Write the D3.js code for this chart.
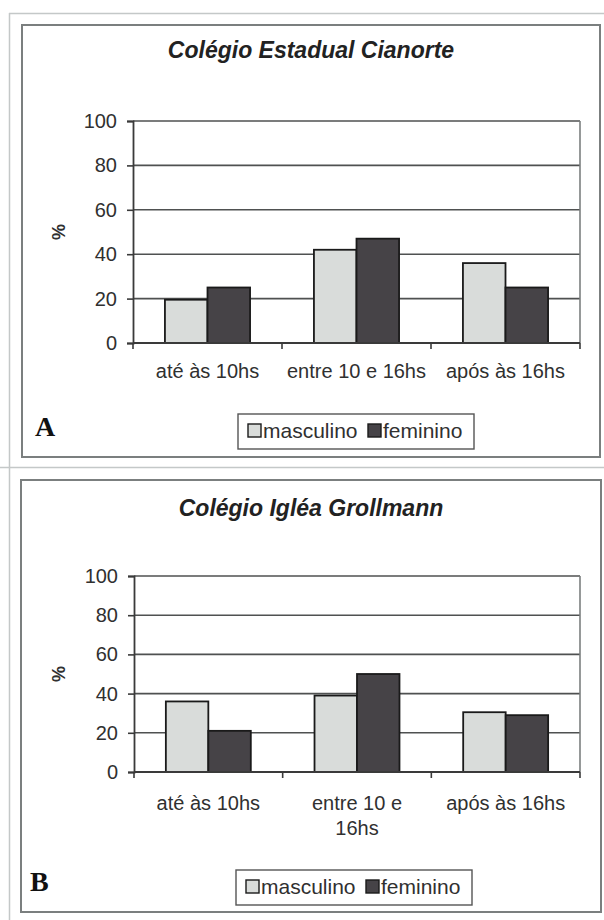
<!DOCTYPE html>
<html>
<head>
<meta charset="utf-8">
<script src="https://cdn.jsdelivr.net/npm/d3@7"></script>
<style>
  body { margin: 0; background: #fff; }
  svg { display: block; font-family: "Liberation Sans", Arial, sans-serif; }
</style>
</head>
<body>
<svg width="604" height="920"></svg>
<script>
// chart data
var categoriesA = ["até às 10hs", "entre 10 e 16hs", "após às 16hs"];
var categoriesB = ["até às 10hs", "entre 10 e\n16hs", "após às 16hs"];
var seriesNames = ["masculino", "feminino"];
var masculinoA = [19.5, 42, 36];
var femininoA = [25, 47, 25];
var masculinoB = [36, 39, 30.5];
var femininoB = [21, 50, 29];
var yTicks = [0, 20, 40, 60, 80, 100];
var titleA = "Colégio Estadual Cianorte";
var titleB = "Colégio Igléa Grollmann";

var colors = { masculino: "#d9dcda", feminino: "#464347" };
var textColor = "#303030";

var svg = d3.select("svg");

// page frame (light lines round the two panels)
svg.append("line").attr("x1", 9).attr("x2", 604).attr("y1", 13.5).attr("y2", 13.5)
   .attr("stroke", "#c4c8c8").attr("stroke-width", 1.5);
svg.append("line").attr("x1", 9.5).attr("x2", 9.5).attr("y1", 13).attr("y2", 920)
   .attr("stroke", "#c4c8c8").attr("stroke-width", 1.5);
svg.append("line").attr("x1", 0).attr("x2", 604).attr("y1", 467.5).attr("y2", 467.5)
   .attr("stroke", "#c4c8c8").attr("stroke-width", 1.5);

function DrawPanel(cfg) {
    var g = svg.append("g");

    // panel box
    g.append("rect")
     .attr("x", cfg.box[0]).attr("y", cfg.box[1])
     .attr("width", cfg.box[2] - cfg.box[0]).attr("height", cfg.box[3] - cfg.box[1])
     .attr("fill", "#fff").attr("stroke", "#7b7f7f").attr("stroke-width", 2);

    // title
    g.append("text")
     .attr("x", 311).attr("y", cfg.titleY)
     .attr("text-anchor", "middle")
     .style("font-size", "23px").style("font-weight", "bold").style("font-style", "italic")
     .style("fill", "#222")
     .text(cfg.title);

    var x0 = d3.scaleBand().domain(cfg.categories).range([cfg.left, cfg.right]).padding(0);
    var bw = x0.bandwidth();
    var gap = bw * 0.75 / 3.5;   // excel gap width 150%
    var x1 = d3.scaleBand().domain(seriesNames).range([gap, bw - gap]).padding(0);
    var y = d3.scaleLinear().domain([0, 100]).range([cfg.bottom, cfg.top]);

    // gridlines
    g.append("g").selectAll("line").data(yTicks.filter(function(d) { return d > 0; })).enter()
     .append("line")
     .attr("x1", cfg.left).attr("x2", cfg.right)
     .attr("y1", function(d) { return y(d); }).attr("y2", function(d) { return y(d); })
     .attr("stroke", "#4f5151").attr("stroke-width", 1.6);

    // right border of plot area
    g.append("line")
     .attr("x1", cfg.right).attr("x2", cfg.right).attr("y1", cfg.top).attr("y2", cfg.bottom)
     .attr("stroke", "#7b7f7f").attr("stroke-width", 1.6);

    // bars
    var rows = cfg.categories.map(function(c, i) {
        return { cat: c, values: [ { name: "masculino", v: cfg.masc[i] }, { name: "feminino", v: cfg.fem[i] } ] };
    });
    g.append("g").selectAll("g").data(rows).enter()
     .append("g")
     .attr("transform", function(d) { return "translate(" + x0(d.cat) + ",0)"; })
     .selectAll("rect").data(function(d) { return d.values; }).enter()
       .append("rect")
       .attr("x", function(d) { return x1(d.name); })
       .attr("y", function(d) { return y(d.v); })
       .attr("width", x1.bandwidth())
       .attr("height", function(d) { return y(0) - y(d.v); })
       .attr("fill", function(d) { return colors[d.name]; })
       .attr("stroke", "#1a1a1a").attr("stroke-width", 1.8);

    // y axis
    var yAxis = g.append("g")
     .attr("transform", "translate(" + cfg.left + ",0)")
     .call(d3.axisLeft(y).tickValues(yTicks).tickSize(6).tickPadding(10));
    yAxis.select(".domain").attr("stroke", "#3a3a3a").attr("stroke-width", 1.8);
    yAxis.selectAll(".tick line").attr("stroke", "#3a3a3a").attr("stroke-width", 1.6);
    yAxis.selectAll(".tick text")
     .style("font-size", "20px").style("font-family", "Liberation Sans, Arial, sans-serif")
     .style("fill", textColor);

    // x axis line and category boundary ticks
    g.append("line")
     .attr("x1", cfg.left).attr("x2", cfg.right).attr("y1", y(0)).attr("y2", y(0))
     .attr("stroke", "#3a3a3a").attr("stroke-width", 1.8);
    var edges = cfg.categories.map(function(c) { return x0(c); }).concat([cfg.right]);
    g.append("g").selectAll("line").data(edges).enter()
     .append("line")
     .attr("x1", function(d) { return d; }).attr("x2", function(d) { return d; })
     .attr("y1", y(0)).attr("y2", y(0) + 6)
     .attr("stroke", "#3a3a3a").attr("stroke-width", 1.6);

    // category labels
    g.append("g").selectAll("text").data(cfg.categories).enter()
     .append("text")
     .attr("x", function(d) { return x0(d) + bw / 2; })
     .attr("y", cfg.labelY)
     .attr("text-anchor", "middle")
     .style("font-size", "20px").style("fill", textColor)
     .each(function(d) {
         var lines = d.split("\n");
         var t = d3.select(this);
         lines.forEach(function(l, i) {
             t.append("tspan").attr("x", x0(d) + bw / 2).attr("dy", i == 0 ? 0 : 25).text(l);
         });
     });

    // y axis title
    g.append("text")
     .attr("transform", "translate(65," + ((cfg.top + cfg.bottom) / 2) + ") rotate(-90)")
     .attr("text-anchor", "middle")
     .style("font-size", "18px").style("font-weight", "bold").style("fill", textColor)
     .text("%");

    // legend
    var lg = g.append("g").attr("transform", "translate(" + cfg.legend[0] + "," + cfg.legend[1] + ")");
    lg.append("rect").attr("width", 236).attr("height", 35)
      .attr("fill", "#fff").attr("stroke", "#555").attr("stroke-width", 1.4);
    var items = [ { name: "masculino", sx: 10, tx: 25 }, { name: "feminino", sx: 130, tx: 145 } ];
    items.forEach(function(it) {
        lg.append("rect").attr("x", it.sx).attr("y", 10).attr("width", 13).attr("height", 13)
          .attr("fill", colors[it.name]).attr("stroke", "#1a1a1a").attr("stroke-width", 1.4);
        lg.append("text").attr("x", it.tx).attr("y", 23.5)
          .style("font-size", "21px").style("fill", textColor).text(it.name);
    });

    // panel letter
    g.append("text")
     .attr("x", cfg.letterX).attr("y", cfg.letterY)
     .style("font-family", "Liberation Serif, Times New Roman, serif")
     .style("font-size", "28px").style("font-weight", "bold").style("fill", "#111")
     .text(cfg.letter);
}

DrawPanel({
    title: titleA, categories: categoriesA, masc: masculinoA, fem: femininoA,
    box: [22, 25, 600, 457], titleY: 58,
    left: 133, right: 580, top: 121, bottom: 343,
    labelY: 378, legend: [238, 414], letter: "A", letterX: 35, letterY: 436
});

DrawPanel({
    title: titleB, categories: categoriesB, masc: masculinoB, fem: femininoB,
    box: [21, 480, 601, 912], titleY: 516,
    left: 134, right: 580, top: 576, bottom: 772,
    labelY: 810, legend: [236, 870], letter: "B", letterX: 30, letterY: 891
});
</script>
</body>
</html>
